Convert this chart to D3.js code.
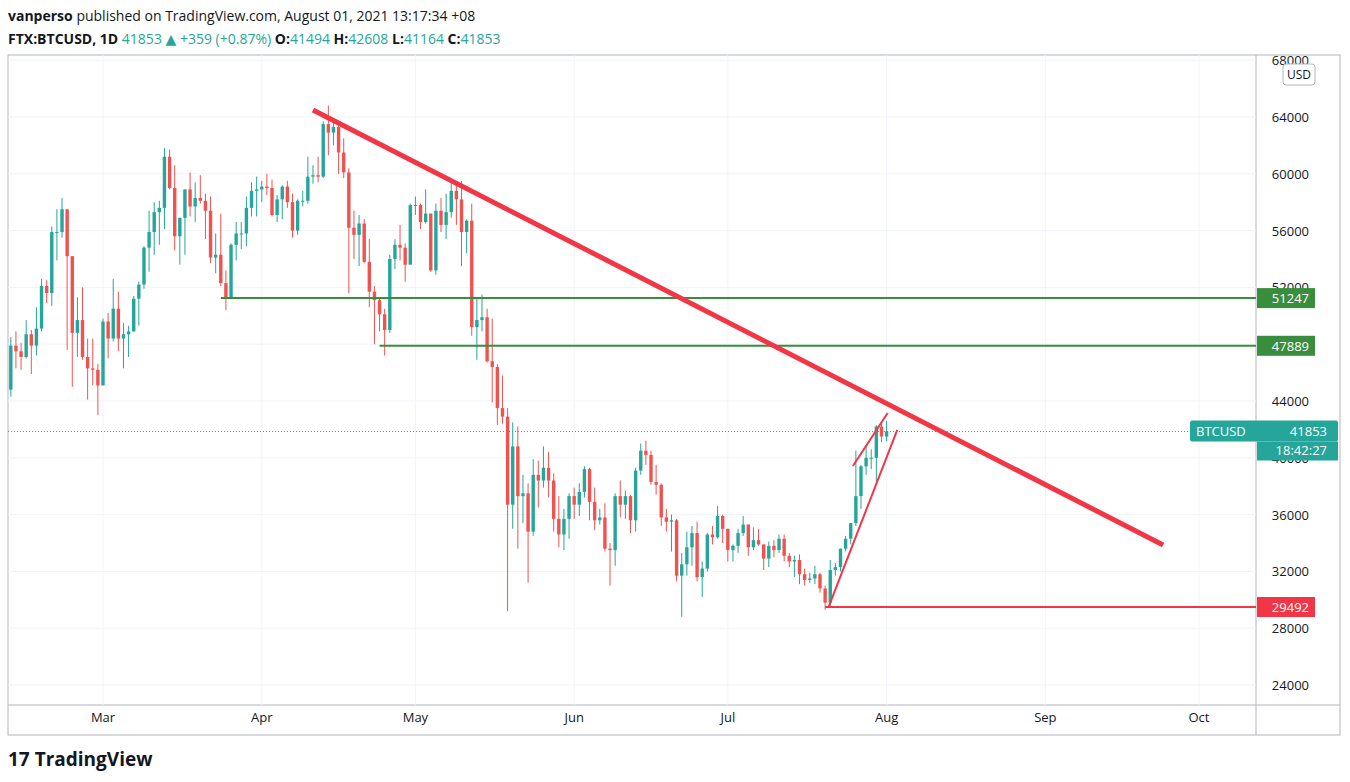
<!DOCTYPE html>
<html>
<head>
<meta charset="utf-8">
<script src="https://cdn.jsdelivr.net/npm/d3@7"></script>
<style>
  body { margin: 0; background: #fff; font-family: "Open Sans", "DejaVu Sans", sans-serif; }
</style>
</head>
<body>
<svg id="chart" width="1350" height="782"></svg>
<script>
// daily candles, Feb 11 .. Aug 1 2021 (FTX:BTCUSD), open = previous close
const firstDay = "2021-02-11";
const firstOpen = 44800;
const closes = [47900,47500,47100,48700,47900,49100,52100,51600,55900,55900,57500,54200,48800,49700,47100,46300,46200,45100,
  49600,48400,50500,48400,48700,48900,51200,52200,54800,55900,57300,57600,61200,59000,55600,56900,58900,57700,58300,58100,57400,54100,54300,52300,51300,55000,55800,55800,57600,58800,58900,
  59100,59000,57100,58200,59100,58000,56000,58100,58100,59800,59900,59800,63500,62900,63300,61500,60100,56200,55700,56500,53800,51700,51100,50100,49000,54000,55000,54800,53600,57800,
  57800,56600,57200,53200,57400,56400,57300,58800,58200,55900,56700,49200,49700,49900,46800,46400,43500,42900,36700,40800,37300,37500,34800,38800,38400,39300,38400,35700,34600,35700,37300,
  36700,37600,39200,36900,35600,35800,33600,33500,37300,36700,37300,35600,39100,40500,40200,38300,38100,35800,35500,35600,31700,32500,33700,34700,31600,32200,34600,34400,35900,35000,
  33500,33800,34700,35300,33700,34200,33900,32900,33800,33500,34300,33100,32700,32800,31800,31400,31500,31800,30800,29800,32100,32300,33600,34300,35400,37300,39400,40000,40000,42200,41500,
  41853];
const highs = [48500,48900,48100,49700,49000,50600,52600,52500,56300,57500,58300,57500,54200,51300,52000,48400,48400,46600,
  49800,50200,52600,51700,49500,49300,51400,52400,54900,57400,58000,58100,61800,61700,60600,56900,58900,60100,59400,59900,58600,58400,55800,57200,53200,55100,56600,56600,58400,59400,59800,
  59500,60000,59600,58500,59200,59500,58600,58200,58800,61200,60600,61200,63700,64800,63800,63600,62500,60400,57400,57100,56800,55400,52100,51200,50500,54300,55400,56400,55100,57900,
  58400,57900,58900,57200,57900,58300,58600,59500,59200,59500,56800,57900,51300,51500,50500,49800,46600,45800,43500,42500,42200,38800,38200,39900,39800,40800,40400,38900,37300,36400,37500,
  37900,38200,39400,39300,37900,36400,36800,34000,37500,38400,37700,37400,39300,41000,41200,40500,39500,38200,36400,36000,35700,33300,34800,35200,35500,32700,34700,35200,36600,36000,
  35000,33900,35000,35900,35300,35100,35000,33900,34100,34200,34600,34600,33300,33100,33200,32200,31900,32400,31900,31000,32800,32600,33600,34500,35400,40500,39500,40900,40600,42300,42400,
  42608];
const lows = [44300,46300,46200,47000,45900,47200,48900,50900,50700,53900,55500,47600,45000,47100,46900,44100,45100,43000,
  45100,47000,48200,47500,46300,47100,48900,49300,51900,53100,54300,55000,56100,58900,54600,53600,54300,57000,56600,57900,55400,53700,53000,52100,50400,51200,53900,54700,54900,57000,57000,
  58000,58500,57000,56600,56800,57600,55500,55700,57700,57900,59300,59400,59700,61300,62000,60000,59700,51600,54000,53500,53700,50600,48000,48900,47200,48800,53300,53900,52400,53800,
  57100,56100,56500,53100,52900,55900,55400,56900,56400,53500,54400,48600,46900,48900,46700,43900,42300,42400,29200,35000,33600,35400,31200,34500,36500,37900,37200,34800,33700,33500,34300,
  35700,35900,37200,35600,34900,35300,33400,31000,32400,35800,35700,34700,34800,38800,39500,38100,37400,35200,34800,33400,31300,28800,31700,32400,31300,30200,32000,33900,34300,34000,
  32700,32700,33300,34500,33100,33500,33800,32100,32300,33000,33300,32700,32300,31600,31100,31000,31200,31100,30500,29300,29500,31700,32000,33400,33900,35200,36400,38800,39200,38300,41100,
  41164];
const lastOpen = 41494;

const yTicks = [24000,28000,32000,36000,40000,44000,48000,52000,56000,60000,64000,68000];
const monthTicks = ["2021-03-01","2021-04-01","2021-05-01","2021-06-01","2021-07-01","2021-08-01","2021-09-01","2021-10-01"];
const monthLabels = ["Mar","Apr","May","Jun","Jul","Aug","Sep","Oct"];

// drawn lines: [date, price] pairs
const trendLine = [["2021-04-11", 64500], ["2021-09-24", 33860]];
const channelLow = [["2021-07-20 16:00", 29492], ["2021-08-03 02:00", 41960]];
const channelHigh = [["2021-07-25 10:00", 39420], ["2021-08-01 05:00", 43150]];
const levels = [
  { price: 51247, from: "2021-03-24", color: "#388e3c" },
  { price: 47889, from: "2021-04-24", color: "#388e3c" },
  { price: 29492, from: "2021-07-20", color: "#f23645" }
];

const parse = d3.timeParse("%Y-%m-%d");
const parseT = s => s.length > 10 ? d3.timeParse("%Y-%m-%d %H:%M")(s) : parse(s);

const candles = closes.map((c, i) => {
  const d = d3.timeDay.offset(parse(firstDay), i);
  const o = i === 0 ? firstOpen : (i === closes.length - 1 ? lastOpen : closes[i - 1]);
  return { date: d, open: o, close: c, high: highs[i], low: lows[i] };
});

const svg = d3.select("#chart");
const pLeft = 8, pRight = 1256, pTop = 55, pBottom = 705;

const x = d3.scaleTime().domain([parse("2021-03-01"), parse("2021-10-01")]).range([103, 1199]);
const y = d3.scaleLinear().domain([24000, 64000]).range([685, 117]);

const green = "#26a69a", red = "#ef5350";

// header
svg.append("text").attr("x", 8).attr("y", 21).attr("font-size", 14).attr("fill", "#131722")
  .html('<tspan font-weight="bold">vanperso</tspan> published on TradingView.com, August 01, 2021 13:17:34 +08');
const hdr = svg.append("text").attr("x", 8).attr("y", 44).attr("font-size", 14).attr("fill", "#131722");
hdr.append("tspan").attr("font-weight", "bold").text("FTX:BTCUSD, 1D ");
hdr.append("tspan").attr("fill", green).text("41853 ");
hdr.append("tspan").attr("fill", green).text("▲ +359 (+0.87%) ");
[["O:", "41494"], ["H:", "42608"], ["L:", "41164"], ["C:", "41853"]].forEach(([k, v]) => {
  hdr.append("tspan").attr("font-weight", "bold").text(k);
  hdr.append("tspan").attr("fill", green).text(v + " ");
});

// frame
svg.append("rect").attr("x", pLeft).attr("y", pTop).attr("width", 1340 - pLeft).attr("height", 735 - pTop)
  .attr("fill", "none").attr("stroke", "#b2b5be");
svg.append("line").attr("x1", pRight).attr("x2", pRight).attr("y1", pTop).attr("y2", 735).attr("stroke", "#b2b5be");
svg.append("line").attr("x1", pLeft).attr("x2", 1340).attr("y1", pBottom).attr("y2", pBottom).attr("stroke", "#b2b5be");

svg.append("clipPath").attr("id", "plot").append("rect")
  .attr("x", pLeft).attr("y", pTop).attr("width", pRight - pLeft).attr("height", pBottom - pTop);
const plot = svg.append("g").attr("clip-path", "url(#plot)");

// grid
plot.selectAll(".hg").data(yTicks).join("line")
  .attr("x1", pLeft).attr("x2", pRight).attr("y1", d => y(d)).attr("y2", d => y(d))
  .attr("stroke", "#f0f3fa");
plot.selectAll(".vg").data(monthTicks).join("line")
  .attr("x1", d => x(parse(d))).attr("x2", d => x(parse(d))).attr("y1", pTop).attr("y2", pBottom)
  .attr("stroke", "#f0f3fa");

// axis labels
svg.selectAll(".yl").data(yTicks).join("text")
  .attr("x", 1309).attr("y", d => y(d) + 5).attr("text-anchor", "end")
  .attr("font-size", 13).attr("fill", "#131722").text(d => d);
svg.selectAll(".xl").data(monthTicks).join("text")
  .attr("x", d => x(parse(d))).attr("y", 722).attr("text-anchor", "middle")
  .attr("font-size", 13).attr("fill", "#131722").text((d, i) => monthLabels[i]);
svg.append("rect").attr("x", 1283).attr("y", 64).attr("width", 32).attr("height", 21).attr("rx", 3)
  .attr("fill", "#fff").attr("stroke", "#b2b5be");
svg.append("text").attr("x", 1299).attr("y", 79).attr("text-anchor", "middle").attr("font-size", 12)
  .attr("fill", "#131722").text("USD");

// last price dotted line
plot.append("line").attr("x1", pLeft).attr("x2", pRight).attr("y1", y(41853)).attr("y2", y(41853))
  .attr("stroke", green).attr("stroke-dasharray", "1,2");

// candles
const bw = 3.4;
const cg = plot.selectAll(".c").data(candles).join("g");
cg.append("line")
  .attr("x1", d => x(d.date)).attr("x2", d => x(d.date))
  .attr("y1", d => y(d.high)).attr("y2", d => y(d.low))
  .attr("stroke", d => d.close >= d.open ? green : red);
cg.append("rect")
  .attr("x", d => x(d.date) - bw / 2).attr("width", bw)
  .attr("y", d => y(Math.max(d.open, d.close)))
  .attr("height", d => Math.max(1, Math.abs(y(d.open) - y(d.close))))
  .attr("fill", d => d.close >= d.open ? green : red);

// level lines
plot.selectAll(".lv").data(levels).join("line")
  .attr("x1", d => x(parse(d.from))).attr("x2", pRight)
  .attr("y1", d => y(d.price)).attr("y2", d => y(d.price))
  .attr("stroke", d => d.color).attr("stroke-width", 2);

const lineGen = d3.line().x(d => x(parseT(d[0]))).y(d => y(d[1]));
plot.append("path").attr("d", lineGen(trendLine)).attr("stroke", "#f23645").attr("stroke-width", 5).attr("fill", "none");
plot.append("path").attr("d", lineGen(channelLow)).attr("stroke", "#f23645").attr("stroke-width", 2).attr("fill", "none");
plot.append("path").attr("d", lineGen(channelHigh)).attr("stroke", "#f23645").attr("stroke-width", 2).attr("fill", "none");

// price tags
levels.forEach(l => {
  svg.append("rect").attr("x", 1257).attr("y", y(l.price) - 10).attr("width", 58).attr("height", 20)
    .attr("fill", l.color);
  svg.append("text").attr("x", 1309).attr("y", y(l.price) + 5).attr("text-anchor", "end")
    .attr("font-size", 13).attr("fill", "#fff").text(l.price);
});
const ly = y(41853);
svg.append("rect").attr("x", 1190).attr("y", ly - 11).attr("width", 148).attr("height", 21).attr("rx", 2).attr("fill", green);
svg.append("text").attr("x", 1196).attr("y", ly + 5).attr("font-size", 13).attr("fill", "#fff").text("BTCUSD");
svg.append("text").attr("x", 1327).attr("y", ly + 5).attr("text-anchor", "end").attr("font-size", 13).attr("fill", "#fff").text("41853");
svg.append("rect").attr("x", 1257).attr("y", ly + 10).attr("width", 81).attr("height", 19).attr("fill", green);
svg.append("text").attr("x", 1327).attr("y", ly + 24).attr("text-anchor", "end").attr("font-size", 13).attr("fill", "#fff").text("18:42:27");

// logo
svg.append("text").attr("x", 8).attr("y", 766).attr("font-size", 19).attr("font-weight", "bold")
  .attr("fill", "#131722").text("17 TradingView");
</script>
</body>
</html>
